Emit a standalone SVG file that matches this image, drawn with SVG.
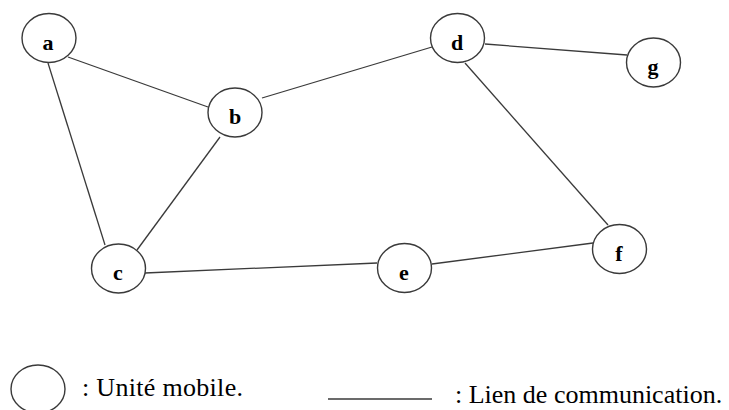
<svg xmlns="http://www.w3.org/2000/svg" width="729" height="410" viewBox="0 0 729 410">
<style>
.node ellipse{fill:#fff;stroke:#3a3a3a;stroke-width:1.4}
.node text{font-family:"Liberation Serif",serif;font-weight:bold;font-size:22px;fill:#000;text-anchor:middle}
.edges line{stroke:#3a3a3a;stroke-width:1.3}
.legend text{font-family:"Liberation Serif",serif;font-size:26px;fill:#000}
</style>
<rect width="729" height="410" fill="#fff"/>
<g class="edges" id="connectors">
<line x1="68" y1="57" x2="208" y2="107"/>
<line x1="48" y1="63" x2="105" y2="245"/>
<line x1="220" y1="137" x2="137" y2="250"/>
<line x1="262" y1="98" x2="432" y2="47"/>
<line x1="485" y1="44" x2="627" y2="55"/>
<line x1="465" y1="63" x2="608" y2="225"/>
<line x1="145" y1="273" x2="377" y2="263"/>
<line x1="432" y1="264" x2="593" y2="243"/>
</g>
<g class="node" id="node-a"><ellipse cx="49" cy="38" rx="27" ry="24.5"/><text x="48" y="50">a</text></g>
<g class="node" id="node-b"><ellipse cx="235" cy="112.5" rx="27" ry="24.5"/><text x="235" y="124">b</text></g>
<g class="node" id="node-c"><ellipse cx="118.5" cy="268.5" rx="27" ry="24.5"/><text x="118" y="280">c</text></g>
<g class="node" id="node-d"><ellipse cx="457.5" cy="38" rx="27" ry="24.5"/><text x="457" y="50">d</text></g>
<g class="node" id="node-e"><ellipse cx="404.5" cy="268" rx="27" ry="24.5"/><text x="404" y="280">e</text></g>
<g class="node" id="node-f"><ellipse cx="619.5" cy="249" rx="27" ry="24.5"/><text x="619" y="261">f</text></g>
<g class="node" id="node-g"><ellipse cx="653.5" cy="62.5" rx="27" ry="24.5"/><text x="653" y="74">g</text></g>
<g class="legend" id="legend">
<ellipse cx="38" cy="389" rx="27" ry="24" fill="#fff" stroke="#3a3a3a" stroke-width="1.4"/>
<text x="82" y="396" textLength="161" lengthAdjust="spacing">: Unité mobile.</text>
<line x1="328" y1="399" x2="432" y2="399" stroke="#3a3a3a" stroke-width="1.5"/>
<text x="455" y="403">: Lien de communication.</text>
</g>
</svg>
